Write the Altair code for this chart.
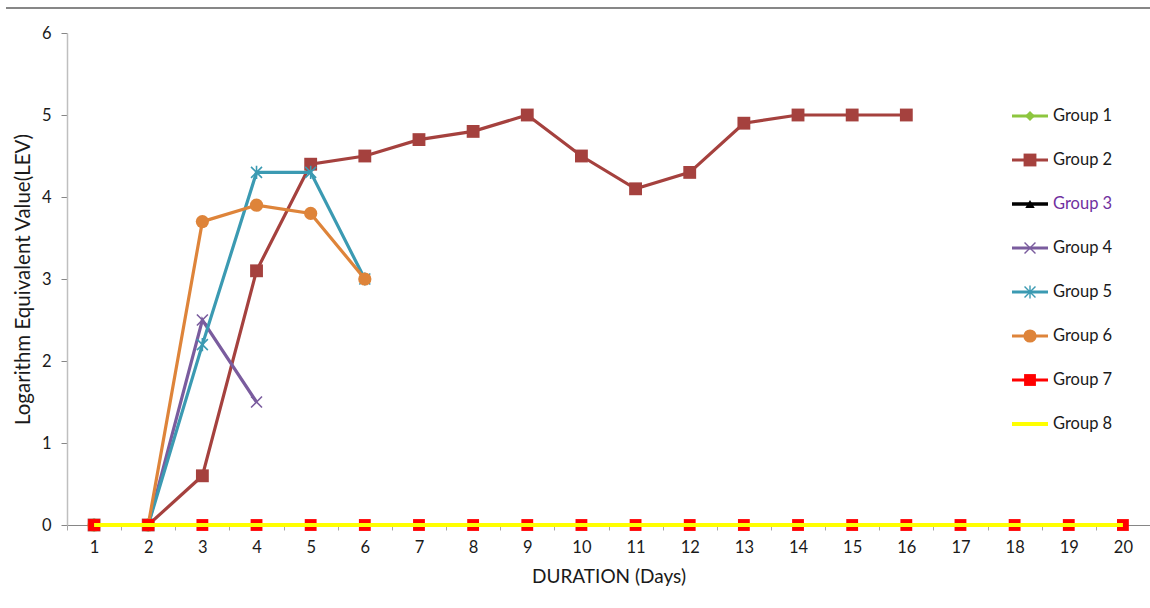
import altair as alt
import pandas as pd

# ---- data -------------------------------------------------------------
days = list(range(1, 21))
groups = ["Group 1", "Group 2", "Group 3", "Group 4",
          "Group 5", "Group 6", "Group 7", "Group 8"]

g1_days = days
g1_vals = [0, 0, 0, 0, 0, 0, 0, 0, 0, 0, 0, 0, 0, 0, 0, 0, 0, 0, 0, 0]
g2_days = list(range(1, 17))
g2_vals = [0, 0, 0.6, 3.1, 4.4, 4.5, 4.7, 4.8, 5.0, 4.5, 4.1, 4.3, 4.9, 5.0, 5.0, 5.0]
g3_days = days
g3_vals = [0, 0, 0, 0, 0, 0, 0, 0, 0, 0, 0, 0, 0, 0, 0, 0, 0, 0, 0, 0]
g4_days = [1, 2, 3, 4]
g4_vals = [0, 0, 2.5, 1.5]
g5_days = [1, 2, 3, 4, 5, 6]
g5_vals = [0, 0, 2.2, 4.3, 4.3, 3.0]
g6_days = [1, 2, 3, 4, 5, 6]
g6_vals = [0, 0, 3.7, 3.9, 3.8, 3.0]
g7_days = days
g7_vals = [0, 0, 0, 0, 0, 0, 0, 0, 0, 0, 0, 0, 0, 0, 0, 0, 0, 0, 0, 0]
g8_days = days
g8_vals = [0, 0, 0, 0, 0, 0, 0, 0, 0, 0, 0, 0, 0, 0, 0, 0, 0, 0, 0, 0]

series = [(g1_days, g1_vals), (g2_days, g2_vals), (g3_days, g3_vals),
          (g4_days, g4_vals), (g5_days, g5_vals), (g6_days, g6_vals),
          (g7_days, g7_vals), (g8_days, g8_vals)]

# ---- styling ----------------------------------------------------------
FONT = "Lato"
LABEL_SIZE = 16.5
X_TITLE_SIZE = 19
Y_TITLE_SIZE = 20.5
X_PATH = "M-1,-1L1,1M-1,1L1,-1"
STAR_PATH = "M-1,-1L1,1M-1,1L1,-1M0,-1.2L0,1.2"

style = {
    "Group 1": dict(color="#8DC63F", shape="diamond", size=100, filled=True, lw=3.2),
    "Group 2": dict(color="#A5413E", shape="square", size=165, filled=True, lw=3.2),
    "Group 3": dict(color="#000000", shape="triangle-up", size=90, filled=True, lw=3.5),
    "Group 4": dict(color="#7A5C9E", shape=X_PATH, size=120, filled=False, lw=3.2),
    "Group 5": dict(color="#3B9AB2", shape=STAR_PATH, size=120, filled=False, lw=3.2),
    "Group 6": dict(color="#DE843A", shape="circle", size=175, filled=True, lw=3.2),
    "Group 7": dict(color="#FF0000", shape="square", size=140, filled=True, lw=3.2),
    "Group 8": dict(color="#FFFF00", shape=None, size=0, filled=True, lw=4),
}

W, H = 1083, 492
STEP = W / 20
TXT = "#1a1a1a"

x_enc = alt.X(
    "day:Q",
    scale=alt.Scale(domain=[0.5, 20.5], nice=False, zero=False),
    axis=alt.Axis(
        values=days, format="d", grid=False,
        tickOffset=-STEP / 2, labelOffset=STEP / 2,
        domainColor="#868686", domainWidth=1,
        tickColor="#A6A6A6", tickSize=5,
        labelPadding=9, labelFontSize=LABEL_SIZE, labelFont=FONT, labelColor=TXT,
        title="DURATION (Days)", titleFont=FONT, titleFontSize=X_TITLE_SIZE,
        titleFontWeight="normal", titleColor=TXT, titlePadding=12,
    ),
)

y_enc = alt.Y(
    "value:Q",
    scale=alt.Scale(domain=[0, 6], nice=False),
    axis=alt.Axis(
        values=[0, 1, 2, 3, 4, 5, 6], grid=False,
        domainColor="#BFBFBF", domainWidth=1.5,
        tickColor="#868686", tickSize=6,
        labelPadding=10, labelFontSize=LABEL_SIZE, labelFont=FONT, labelColor=TXT,
        title="Logarithm Equivalent Value(LEV)", titleFont=FONT,
        titleFontSize=Y_TITLE_SIZE, titleFontWeight="normal", titleColor=TXT,
        titlePadding=8,
    ),
)

# ---- plot series: line then markers, series by series -----------------
plot_layers = []
for g, (d, v) in zip(groups, series):
    st = style[g]
    df = pd.DataFrame({"day": d, "value": v, "group": g})
    line = alt.Chart(df).mark_line(
        color=st["color"], strokeWidth=st["lw"]
    ).encode(x=x_enc, y=y_enc)
    plot_layers.append(line)
    if st["shape"] is not None:
        if st["filled"]:
            pts = alt.Chart(df).mark_point(
                shape=st["shape"], size=st["size"], filled=True,
                fill=st["color"], color=st["color"], opacity=1,
            )
        else:
            pts = alt.Chart(df).mark_point(
                shape=st["shape"], size=st["size"], filled=False,
                stroke=st["color"], strokeWidth=1.6, opacity=1,
            )
        plot_layers.append(pts.encode(x=x_enc, y=y_enc))

main = alt.layer(*plot_layers)

# ---- legend (right side, inside the plot area) ------------------------
leg_df = pd.DataFrame({"group": groups})
leg_y = alt.Y("group:N", scale=alt.Scale(type="point", domain=groups,
                                         range=[83, 391], padding=0), axis=None)

legend_layers = []
for g in groups:
    st = style[g]
    sub = alt.Chart(leg_df).transform_filter(alt.datum.group == g)
    legend_layers.append(
        sub.mark_rule(color=st["color"], strokeWidth=st["lw"]).encode(
            x=alt.value(945), x2=alt.value(981), y=leg_y)
    )
    if st["shape"] is not None:
        if st["filled"]:
            mk = sub.mark_point(shape=st["shape"], size=st["size"], filled=True,
                                fill=st["color"], color=st["color"], opacity=1)
        else:
            mk = sub.mark_point(shape=st["shape"], size=st["size"], filled=False,
                                stroke=st["color"], strokeWidth=1.4, opacity=1)
        legend_layers.append(mk.encode(x=alt.value(963), y=leg_y))

legend_layers.append(
    alt.Chart(leg_df).mark_text(
        align="left", baseline="middle", font=FONT, fontSize=LABEL_SIZE
    ).encode(
        x=alt.value(986), y=leg_y, text="group:N",
        color=alt.condition(alt.datum.group == "Group 3",
                            alt.value("#7030A0"), alt.value(TXT)),
    )
)
legend = alt.layer(*legend_layers)

# thin frame line across the top of the chart area
frame = alt.Chart(pd.DataFrame({"k": [0]})).mark_rule(
    color="#878787", strokeWidth=2
).encode(x=alt.value(-61), x2=alt.value(1083), y=alt.value(-25))

chart = alt.layer(main, legend, frame).resolve_scale(
    y="independent"
).properties(
    width=W, height=H,
    background="white",
    autosize=alt.AutoSizeParams(type="none"),
    padding={"left": 67, "top": 33, "right": 0, "bottom": 83},
).configure_view(strokeWidth=0, stroke="transparent")

chart.save("out.html", embed_options={"renderer": "svg", "actions": False})
